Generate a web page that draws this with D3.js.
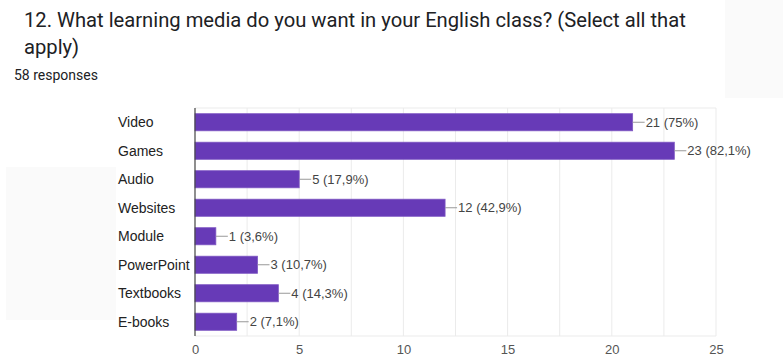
<!DOCTYPE html>
<html>
<head>
<meta charset="utf-8">
<script src="https://cdn.jsdelivr.net/npm/d3@7"></script>
<style>
  body { margin: 0; background: #fff; }
</style>
</head>
<body>
<div id="chart"></div>
<script>
// chart data
var categories = ["Video", "Games", "Audio", "Websites", "Module", "PowerPoint", "Textbooks", "E-books"];
var counts = [21, 23, 5, 12, 1, 3, 4, 2];
var percents = ["75%", "82,1%", "17,9%", "42,9%", "3,6%", "10,7%", "14,3%", "7,1%"];
var tickValues = [0, 5, 10, 15, 20, 25];
var gridValues = [2.5, 5, 7.5, 10, 12.5, 15, 17.5, 20, 22.5, 25];

var W = 783, H = 358;
var plot = { left: 195, right: 716, top: 108, bottom: 336 };

var svg = d3.select("#chart")
    .append("svg")
    .attr("width", W)
    .attr("height", H);

// faint panels from the screenshot background
svg.append("rect").attr("x", 725).attr("y", 0).attr("width", 58).attr("height", 98).attr("fill", "#fafafa");
svg.append("rect").attr("x", 6).attr("y", 167).attr("width", 110).attr("height", 153).attr("fill", "#fafafa");

// title
var title = svg.append("text")
    .attr("x", 24)
    .attr("font-family", "Roboto, sans-serif")
    .attr("font-size", 20.2)
    .attr("fill", "#202124");
title.append("tspan").attr("x", 24).attr("y", 27).text("12. What learning media do you want in your English class? (Select all that");
title.append("tspan").attr("x", 24).attr("y", 54).text("apply)");

svg.append("text")
    .attr("x", 14)
    .attr("y", 80)
    .attr("font-family", "Roboto, sans-serif")
    .attr("font-size", 14)
    .attr("fill", "#202124")
    .text("58 responses");

// scales
var x = d3.scaleLinear()
    .domain([0, 25])
    .range([plot.left, plot.right]);

var y = d3.scaleBand()
    .domain(categories)
    .range([plot.top, plot.bottom])
    .paddingInner(0.4)
    .paddingOuter(0.2);

// gridlines
svg.append("g")
    .selectAll("line")
    .data(gridValues)
    .enter()
    .append("line")
    .attr("x1", function (d) { return x(d); })
    .attr("x2", function (d) { return x(d); })
    .attr("y1", plot.top)
    .attr("y2", plot.bottom)
    .attr("stroke", "#ebebeb")
    .attr("stroke-width", 1);

[plot.top, plot.bottom].forEach(function (yy) {
    svg.append("line")
        .attr("x1", plot.left).attr("x2", plot.right)
        .attr("y1", yy).attr("y2", yy)
        .attr("stroke", "#ebebeb");
});

// x axis tick labels
var xAxis = svg.append("g")
    .attr("transform", "translate(0," + plot.bottom + ")")
    .call(d3.axisBottom(x).tickValues(tickValues).tickSize(0).tickPadding(9));
xAxis.select(".domain").remove();
xAxis.selectAll("text")
    .attr("font-family", "Arial, 'Liberation Sans', sans-serif")
    .attr("font-size", 13)
    .attr("fill", "#555");

// bars
svg.selectAll("rect.bar")
    .data(counts)
    .enter()
    .append("rect")
    .attr("class", "bar")
    .attr("x", x(0))
    .attr("y", function (d, i) { return y(categories[i]); })
    .attr("width", function (d) { return x(d) - x(0); })
    .attr("height", y.bandwidth())
    .attr("fill", "#673ab7")
    .attr("stroke", "#7e57c2")
    .attr("stroke-width", 0.8);

// baseline
svg.append("line")
    .attr("x1", x(0)).attr("x2", x(0))
    .attr("y1", plot.top).attr("y2", plot.bottom)
    .attr("stroke", "#444")
    .attr("stroke-width", 1.2);

// category labels
svg.selectAll("text.cat")
    .data(categories)
    .enter()
    .append("text")
    .attr("class", "cat")
    .attr("x", 118)
    .attr("y", function (d) { return y(d) + y.bandwidth() / 2; })
    .attr("dy", "0.36em")
    .attr("font-family", "Arial, 'Liberation Sans', sans-serif")
    .attr("font-size", 14)
    .attr("fill", "#222")
    .text(function (d) { return d; });

// value annotations
var ann = svg.selectAll("g.ann")
    .data(counts)
    .enter()
    .append("g")
    .attr("class", "ann")
    .attr("transform", function (d, i) {
        return "translate(" + x(d) + "," + (y(categories[i]) + y.bandwidth() / 2) + ")";
    });

ann.append("line")
    .attr("x1", 0).attr("x2", 12)
    .attr("y1", 0).attr("y2", 0)
    .attr("stroke", "#999");

ann.append("text")
    .attr("x", 13)
    .attr("dy", "0.36em")
    .attr("font-family", "Arial, 'Liberation Sans', sans-serif")
    .attr("font-size", 13)
    .attr("fill", "#444")
    .text(function (d, i) { return d + " (" + percents[i] + ")"; });
</script>
</body>
</html>
